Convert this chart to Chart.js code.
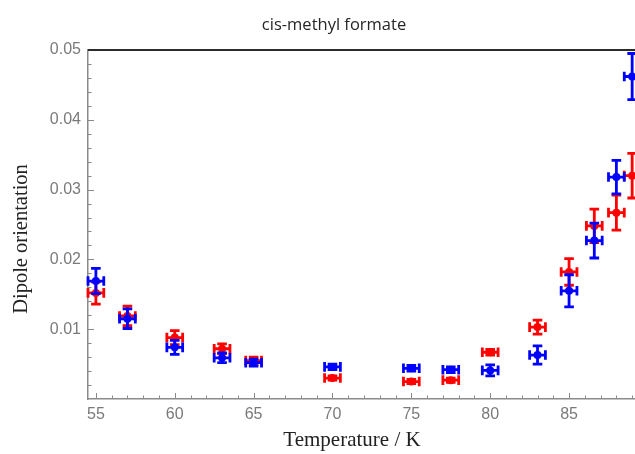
<!DOCTYPE html>
<html>
<head>
<meta charset="utf-8">
<script src="https://cdn.jsdelivr.net/npm/chart.js@4/dist/chart.umd.min.js"></script>
<style>
  html, body { margin: 0; padding: 0; background: #ffffff; }
  #wrap { width: 635px; height: 454px; position: relative; }
</style>
</head>
<body>
<div id="wrap"><canvas id="c" width="635" height="454"></canvas></div>
<script>
// ---- data ----
const chartTitle = 'cis-methyl formate';
const xAxisTitle = 'Temperature / K';
const yAxisTitle = 'Dipole orientation';

const temperatures = [55, 57, 60, 63, 65, 70, 75, 77.5, 80, 83, 85, 86.6, 88, 89];
const temperatureErr = 0.5;

const blueValues = [0.0169, 0.0115, 0.0074, 0.0059, 0.0052, 0.0046, 0.0044, 0.0042, 0.0041, 0.0063, 0.0155, 0.0227, 0.0318, 0.0462];
const blueErrors = [0.0018, 0.0014, 0.0010, 0.0007, 0.0005, 0.0004, 0.0004, 0.0004, 0.0008, 0.0013, 0.0023, 0.0025, 0.0024, 0.0033];

const redValues  = [0.0152, 0.0119, 0.0088, 0.0072, 0.0055, 0.0030, 0.0025, 0.0027, 0.0067, 0.0103, 0.0182, 0.0248, 0.0267, 0.0320];
const redErrors  = [0.0016, 0.0014, 0.0010, 0.0007, 0.0005, 0.0003, 0.0003, 0.0003, 0.0004, 0.0010, 0.0019, 0.0024, 0.0025, 0.0032];

const xTickLabels = [55, 60, 65, 70, 75, 80, 85];
const yTickLabels = [0.01, 0.02, 0.03, 0.04, 0.05];

// ---- build datasets ----
function toPoints(vals, errs) {
  return temperatures.map((t, i) => ({ x: t, y: vals[i], yErr: errs[i], xErr: temperatureErr }));
}

const RED = 'rgb(255,0,0)';
const BLUE = 'rgb(0,0,255)';

const errorBarPlugin = {
  id: 'errorBars',
  afterDatasetDraw(chart, args) {
    const ds = chart.data.datasets[args.index];
    const xs = chart.scales.x, ys = chart.scales.y;
    const ctx = chart.ctx;
    ctx.save();
    ctx.strokeStyle = ds.borderColor;
    ctx.lineWidth = 2.8;
    ctx.lineCap = 'butt';
    const cap = 4.8;
    ds.data.forEach(p => {
      const cx = xs.getPixelForValue(p.x), cy = ys.getPixelForValue(p.y);
      const x0 = xs.getPixelForValue(p.x - p.xErr), x1 = xs.getPixelForValue(p.x + p.xErr);
      const y0 = ys.getPixelForValue(p.y - p.yErr), y1 = ys.getPixelForValue(p.y + p.yErr);
      ctx.beginPath();
      ctx.moveTo(x0, cy); ctx.lineTo(x1, cy);
      ctx.moveTo(x0, cy - cap); ctx.lineTo(x0, cy + cap);
      ctx.moveTo(x1, cy - cap); ctx.lineTo(x1, cy + cap);
      ctx.moveTo(cx, y0); ctx.lineTo(cx, y1);
      ctx.moveTo(cx - cap, y0); ctx.lineTo(cx + cap, y0);
      ctx.moveTo(cx - cap, y1); ctx.lineTo(cx + cap, y1);
      ctx.stroke();
      ctx.beginPath();
      ctx.fillStyle = ds.backgroundColor;
      ctx.arc(cx, cy, 4, 0, Math.PI * 2);
      ctx.fill();
    });
    ctx.restore();
  }
};

const framePlugin = {
  id: 'frame',
  afterDraw(chart) {
    const ctx = chart.ctx;
    const a = chart.chartArea;
    const xs = chart.scales.x, ys = chart.scales.y;
    ctx.save();
    // inward ticks
    ctx.strokeStyle = '#8a8a8a';
    ctx.lineWidth = 1;
    ctx.beginPath();
    for (let v = Math.ceil(xs.min); v <= xs.max; v += 1) {
      const px = Math.round(xs.getPixelForValue(v)) + 0.5;
      const len = (v % 5 === 0) ? 6 : 3.5;
      ctx.moveTo(px, a.bottom); ctx.lineTo(px, a.bottom - len);
    }
    for (let k = 1; k <= 25; k++) {
      const v = k * 0.002;
      const py = Math.round(ys.getPixelForValue(v)) + 0.5;
      const len = (k % 5 === 0) ? 6 : 3.5;
      ctx.moveTo(a.left, py); ctx.lineTo(a.left + len, py);
    }
    ctx.stroke();
    // top frame line
    ctx.strokeStyle = '#2b2b2b';
    ctx.lineWidth = 2;
    ctx.beginPath();
    ctx.moveTo(a.left, a.top); ctx.lineTo(a.right, a.top);
    ctx.stroke();
    // title
    ctx.fillStyle = '#262626';
    ctx.font = '16.5px "Open Sans", sans-serif';
    ctx.textAlign = 'center';
    ctx.textBaseline = 'alphabetic';
    ctx.fillText(chartTitle, 334, 30);
    // x axis title
    ctx.fillStyle = '#222222';
    ctx.font = '21px "Liberation Serif", serif';
    ctx.fillText(xAxisTitle, 352, 446);
    // y axis title
    ctx.font = '20.5px "Liberation Serif", serif';
    ctx.translate(27, 239);
    ctx.rotate(-Math.PI / 2);
    ctx.fillText(yAxisTitle, 0, 0);
    ctx.restore();
  }
};

new Chart(document.getElementById('c'), {
  type: 'scatter',
  data: {
    datasets: [
      { label: 'blue', data: toPoints(blueValues, blueErrors), borderColor: BLUE, backgroundColor: BLUE, pointRadius: 0, showLine: false },
      { label: 'red', data: toPoints(redValues, redErrors), borderColor: RED, backgroundColor: RED, pointRadius: 0, showLine: false }
    ]
  },
  options: {
    responsive: false,
    animation: false,
    devicePixelRatio: 1,
    layout: { padding: { top: 50, left: 0, right: 0, bottom: 0 } },
    plugins: { legend: { display: false }, tooltip: { enabled: false }, title: { display: false } },
    scales: {
      x: {
        type: 'linear',
        min: 54.5,
        max: 89.18,
        afterBuildTicks(scale) { scale.ticks = xTickLabels.map(v => ({ value: v })); },
        afterFit(scale) { scale.height = 55; },
        grid: { display: true, drawOnChartArea: false, drawTicks: false, color: 'rgba(0,0,0,0)' },
        border: { display: true, color: '#8a8a8a', width: 1.5 },
        ticks: { color: '#7a7a7a', font: { family: '"Liberation Sans", Arial, sans-serif', size: 16 }, padding: 6, maxRotation: 0 }
      },
      y: {
        type: 'linear',
        min: 0,
        max: 0.05,
        afterBuildTicks(scale) { scale.ticks = yTickLabels.map(v => ({ value: v })); },
        afterFit(scale) { scale.width = 88; },
        grid: { display: true, drawOnChartArea: false, drawTicks: false, color: 'rgba(0,0,0,0)' },
        border: { display: true, color: '#8a8a8a', width: 1.5 },
        ticks: {
          color: '#7a7a7a', font: { family: '"Liberation Sans", Arial, sans-serif', size: 16 }, padding: 7,
          callback: v => v.toFixed(2)
        }
      }
    }
  },
  plugins: [errorBarPlugin, framePlugin]
});
</script>
</body>
</html>
